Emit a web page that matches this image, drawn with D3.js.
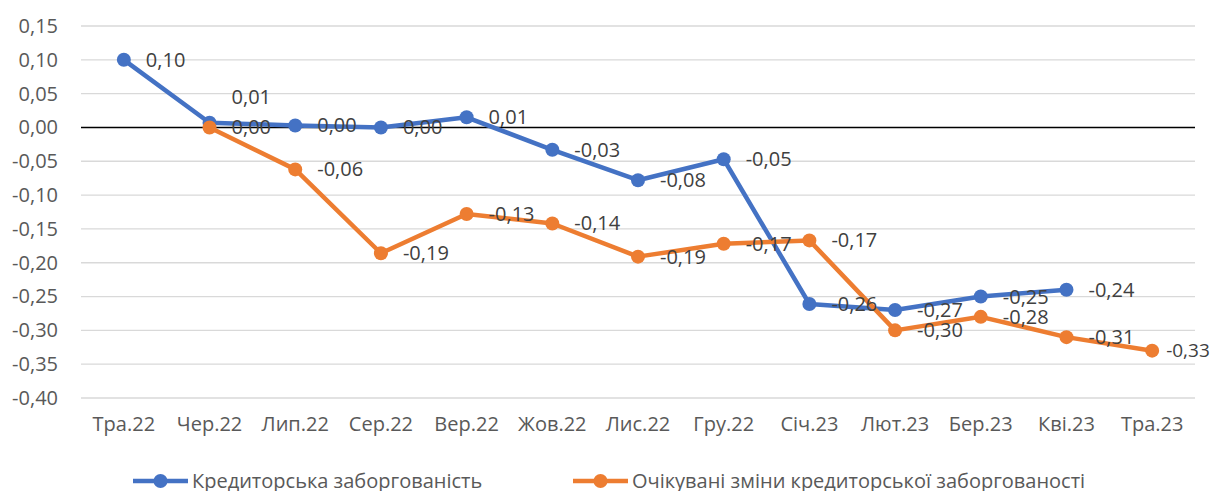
<!DOCTYPE html>
<html>
<head>
<meta charset="utf-8">
<script src="https://cdn.jsdelivr.net/npm/d3@7"></script>
<style>
	body { margin: 0; background: #fff; }
	svg { display: block; font-family: 'Open Sans', sans-serif; }
</style>
</head>
<body>
<svg class="chart"></svg>
<script>
// categories (months)
const months = ['Тра.22', 'Чер.22', 'Лип.22', 'Сер.22', 'Вер.22', 'Жов.22', 'Лис.22', 'Гру.22', 'Січ.23', 'Лют.23', 'Бер.23', 'Кві.23', 'Тра.23']
// series values
const payables = [0.10, 0.007, 0.003, 0.0, 0.015, -0.033, -0.078, -0.047, -0.261, -0.27, -0.25, -0.24, null]
const expected = [null, 0.0, -0.062, -0.186, -0.128, -0.142, -0.191, -0.172, -0.167, -0.30, -0.28, -0.31, -0.33]
const seriesNames = ['Кредиторська заборгованість', 'Очікувані зміни кредиторської заборгованості']
const yTicks = [0.15, 0.10, 0.05, 0.00, -0.05, -0.10, -0.15, -0.20, -0.25, -0.30, -0.35, -0.40]

const svgWidth = 1217,
	svgHeight = 491
const plot = { left: 81, right: 1195, top: 26, bottom: 398 }
const colors = ['#4472C4', '#ED7D31']
const fontSize = '20px'

const svg = d3.select('.chart').attr('width', svgWidth).attr('height', svgHeight)

const xScale = d3.scaleBand().domain(months).range([plot.left, plot.right])
const yScale = d3.scaleLinear().domain([-0.40, 0.15]).range([plot.bottom, plot.top])
const fmt = d => d3.format('.2f')(d).replace('.', ',').replace('−', '-')
const xPos = d => xScale(d) + xScale.bandwidth() / 2

//gridlines
svg.append('g')
	.selectAll('line')
	.data(yTicks)
	.enter()
	.append('line')
	.attr('x1', plot.left)
	.attr('x2', plot.right)
	.attr('y1', d => yScale(d))
	.attr('y2', d => yScale(d))
	.attr('stroke', d => d === 0 ? '#000' : '#D9D9D9')
	.attr('stroke-width', d => d === 0 ? 1.5 : 1.3)

//y axis labels
const yAxis = d3.axisLeft(yScale).tickValues(yTicks).tickFormat(fmt).tickSize(0).tickPadding(0)
svg.append('g')
	.attr('transform', 'translate(58,0)')
	.call(yAxis)
	.call(g => g.select('.domain').remove())
	.selectAll('text')
	.attr('fill', '#595959')
	.style('font-size', fontSize)
	.style('font-family', 'Open Sans')

//x axis labels
const xAxis = d3.axisBottom(xScale).tickSize(0).tickPadding(0)
svg.append('g')
	.attr('transform', 'translate(0,417)')
	.call(xAxis)
	.call(g => g.select('.domain').remove())
	.selectAll('text')
	.attr('fill', '#595959')
	.style('font-size', fontSize)
	.style('font-family', 'Open Sans')

const line = d3.line()
	.defined(d => d.v !== null)
	.x(d => xPos(d.m))
	.y(d => yScale(d.v))

const series = [payables, expected].map((vals, i) => ({
	name: seriesNames[i],
	color: colors[i],
	points: vals.map((v, j) => ({ m: months[j], v: v }))
}))

series.forEach((s, i) => {
	const g = svg.append('g')
	g.append('path')
		.datum(s.points)
		.attr('d', line)
		.attr('fill', 'none')
		.attr('stroke', s.color)
		.attr('stroke-width', 4.5)
		.attr('stroke-linejoin', 'round')
	g.selectAll('circle')
		.data(s.points.filter(p => p.v !== null))
		.enter()
		.append('circle')
		.attr('cx', p => xPos(p.m))
		.attr('cy', p => yScale(p.v))
		.attr('r', 7)
		.attr('fill', s.color)
})

//data labels (drawn on top)
const lastMonth = months[months.length - 1]
series.forEach((s, i) => {
	svg.append('g')
		.selectAll('text')
		.data(s.points.filter(p => p.v !== null))
		.enter()
		.append('text')
		.attr('x', p => xPos(p.m) + (p.m === lastMonth ? 14 : 22))
		.attr('y', p => yScale(p.v))
		.attr('dy', p => (i === 0 && p.m === 'Чер.22') ? '-0.95em' : '0.35em')
		.attr('fill', '#404040')
		.style('font-size', p => p.m === lastMonth ? '19px' : fontSize)
		.text(p => fmt(p.v))
})

//legend
const legend = svg.append('g').attr('transform', 'translate(0,481)')
const legendX = [133, 573]
series.forEach((s, i) => {
	const lg = legend.append('g').attr('transform', 'translate(' + legendX[i] + ',0)')
	lg.append('line').attr('x1', 0).attr('x2', 55).attr('stroke', s.color).attr('stroke-width', 4.5)
	lg.append('circle').attr('cx', 27.5).attr('r', 7).attr('fill', s.color)
	lg.append('text')
		.attr('x', 59)
		.attr('dy', '0.35em')
		.attr('fill', '#595959')
		.style('font-size', fontSize)
		.text(s.name)
})
</script>
</body>
</html>
